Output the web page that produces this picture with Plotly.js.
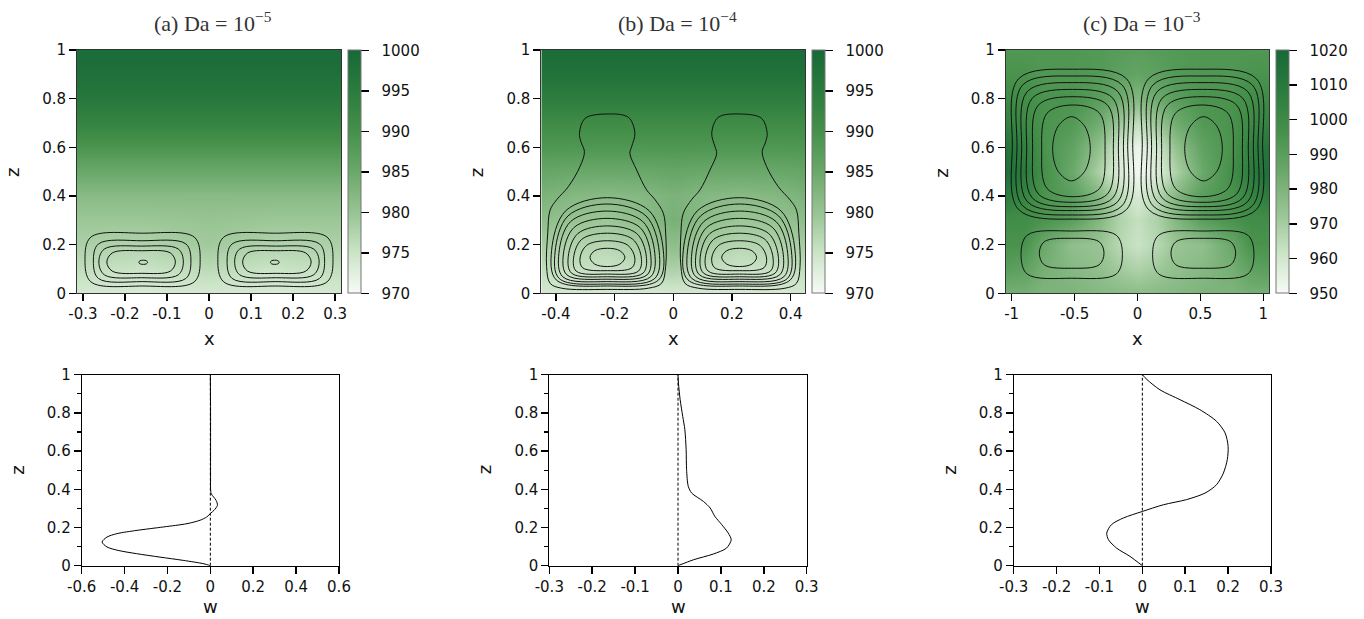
<!DOCTYPE html>
<html><head><meta charset="utf-8">
<script src="https://cdn.plot.ly/plotly-3.0.1.min.js"></script>
<style>html,body{margin:0;padding:0;background:#fff}#chart{width:1364px;height:619px}</style>
</head><body><div id="chart"></div>
<script>
// ---------- DATA ----------
const zGrid = [0,0.1,0.2,0.3,0.4,0.5,0.6,0.7,0.8,0.9,1];

// (a) Da = 1e-5 : colour field
const xGridA = [-0.314,-0.157,0,0.157,0.314];
const fieldA = [
 [974,973.5,974,973.5,974],
 [976,975,976.5,975,976],
 [978,977.5,979,977.5,978],
 [979.5,979.5,980,979.5,979.5],
 [981.5,981.5,981.5,981.5,981.5],
 [985,985,985,985,985],
 [989,989,989,989,989],
 [993,993,993,993,993],
 [996,996,996,996,996],
 [998,998,998,998,998],
 [999,999,999,999,999]
];
// (b) Da = 1e-4
const xGridB = [-0.45,-0.34,-0.225,-0.11,0,0.11,0.225,0.34,0.45];
const fieldB = [
 [974,974,974,974,974,974,974,974,974],
 [976,975.5,975,976,978,976,975,975.5,976],
 [978.5,977.5,977,978.5,981,978.5,977,977.5,978.5],
 [981,980,979.5,981,983.5,981,979.5,980,981],
 [983,982,981.5,982,983,982,981.5,982,983],
 [985.5,985,985,985,985.5,985,985,985,985.5],
 [988.5,988.5,988.5,988.5,988.5,988.5,988.5,988.5,988.5],
 [991,991,991,991,991,991,991,991,991],
 [994.5,994.5,994.5,994.5,994.5,994.5,994.5,994.5,994.5],
 [997.5,997.5,997.5,997.5,997.5,997.5,997.5,997.5,997.5],
 [999,999,999,999,999,999,999,999,999]
];
// (c) Da = 1e-3
const xGridC = [-1.047,-0.9,-0.75,-0.52,-0.3,-0.15,0,0.15,0.3,0.52,0.75,0.9,1.047];
const fieldC = [
 [982,982,980,980,978,977,976,977,978,980,980,982,982],
 [990,988,982,978,975,971,968,971,975,978,982,988,990],
 [995,995,985,975,973,966,962,966,973,975,985,995,995],
 [998,998,995,990,978,968,963,968,978,990,995,998,998],
 [1008,1003,995,990,978,966,958,966,978,990,995,1003,1008],
 [1016,1008,997,985,968,957,951,957,968,985,997,1008,1016],
 [1013,1005,995,988,974,960,953,960,974,988,995,1005,1013],
 [1005,1000,995,992,983,972,964,972,983,992,995,1000,1005],
 [1000,998,995,995,990,984,978,984,990,995,995,998,1000],
 [995,995,993,993,992,989,987,989,992,993,993,995,995],
 [993,993,993,993,992,991,990,991,992,993,993,993,993]
];

// streamline contours (left cell; right cell is its mirror image)
const ringsA_x = [
 [-0.158,-0.035,-0.021,-0.035,-0.158,-0.281,-0.295,-0.281,-0.158],
 [-0.159,-0.055,-0.043,-0.055,-0.159,-0.263,-0.275,-0.263,-0.159],
 [-0.161,-0.073,-0.061,-0.073,-0.161,-0.249,-0.262,-0.249,-0.161],
 [-0.161,-0.092,-0.080,-0.092,-0.161,-0.230,-0.243,-0.230,-0.161],
 [-0.156,-0.149,-0.146,-0.149,-0.156,-0.164,-0.167,-0.164,-0.156]
];
const ringsA_z = [
 [0.247,0.231,0.139,0.047,0.030,0.047,0.139,0.231,0.247],
 [0.216,0.203,0.132,0.061,0.048,0.061,0.132,0.203,0.216],
 [0.194,0.182,0.129,0.076,0.064,0.076,0.129,0.182,0.194],
 [0.175,0.166,0.128,0.091,0.082,0.091,0.128,0.166,0.175],
 [0.136,0.134,0.1275,0.121,0.119,0.121,0.1275,0.134,0.136]
];
const ringsB_x = [
 [-0.227,-0.153,-0.131,-0.142,-0.148,-0.125,-0.091,-0.063,-0.034,-0.026,-0.026,-0.040,-0.085,-0.227,-0.381,-0.420,-0.432,-0.428,-0.420,-0.398,-0.358,-0.318,-0.303,-0.315,-0.320,-0.301,-0.227],
 [-0.225,-0.082,-0.034,-0.050,-0.225,-0.399,-0.415,-0.367,-0.225],
 [-0.226,-0.093,-0.048,-0.063,-0.226,-0.389,-0.403,-0.359,-0.226],
 [-0.227,-0.104,-0.063,-0.077,-0.227,-0.377,-0.390,-0.350,-0.227],
 [-0.226,-0.114,-0.077,-0.089,-0.226,-0.363,-0.375,-0.338,-0.226],
 [-0.225,-0.125,-0.092,-0.103,-0.225,-0.347,-0.358,-0.325,-0.225],
 [-0.225,-0.138,-0.109,-0.119,-0.225,-0.331,-0.340,-0.312,-0.225],
 [-0.225,-0.155,-0.131,-0.141,-0.225,-0.309,-0.318,-0.295,-0.225],
 [-0.225,-0.182,-0.165,-0.182,-0.225,-0.268,-0.284,-0.268,-0.225]
];
const ringsB_z = [
 [0.737,0.723,0.658,0.603,0.575,0.507,0.425,0.386,0.329,0.247,0.110,0.041,0.021,0.016,0.021,0.041,0.110,0.247,0.342,0.384,0.438,0.521,0.582,0.623,0.658,0.719,0.737],
 [0.393,0.339,0.175,0.055,0.030,0.055,0.175,0.339,0.393],
 [0.367,0.318,0.170,0.061,0.038,0.061,0.170,0.318,0.367],
 [0.338,0.295,0.164,0.068,0.048,0.068,0.164,0.295,0.338],
 [0.308,0.271,0.158,0.076,0.058,0.076,0.158,0.271,0.308],
 [0.277,0.246,0.152,0.083,0.068,0.083,0.152,0.246,0.277],
 [0.247,0.222,0.146,0.091,0.079,0.091,0.146,0.222,0.247],
 [0.216,0.1975,0.145,0.105,0.093,0.105,0.145,0.1975,0.216],
 [0.185,0.175,0.1475,0.120,0.110,0.120,0.1475,0.175,0.185]
];
const ringsC_x = [
 [-0.516,-0.086,-0.038,-0.086,-0.516,-0.946,-0.994,-0.946,-0.516],
 [-0.518,-0.122,-0.078,-0.122,-0.518,-0.913,-0.957,-0.913,-0.518],
 [-0.516,-0.156,-0.112,-0.156,-0.516,-0.876,-0.920,-0.876,-0.516],
 [-0.516,-0.196,-0.152,-0.196,-0.516,-0.836,-0.880,-0.836,-0.516],
 [-0.513,-0.237,-0.192,-0.237,-0.513,-0.789,-0.833,-0.789,-0.513],
 [-0.510,-0.301,-0.258,-0.301,-0.510,-0.719,-0.761,-0.719,-0.510],
 [-0.525,-0.420,-0.375,-0.420,-0.525,-0.630,-0.674,-0.630,-0.525],
 [-0.523,-0.169,-0.120,-0.169,-0.523,-0.876,-0.925,-0.876,-0.523],
 [-0.523,-0.305,-0.266,-0.305,-0.523,-0.741,-0.780,-0.741,-0.523]
];
const ringsC_z = [
 [0.921,0.881,0.613,0.345,0.305,0.345,0.613,0.881,0.921],
 [0.893,0.856,0.608,0.360,0.322,0.360,0.608,0.856,0.893],
 [0.866,0.829,0.603,0.377,0.340,0.377,0.603,0.829,0.866],
 [0.838,0.802,0.597,0.392,0.356,0.392,0.597,0.802,0.838],
 [0.808,0.773,0.591,0.409,0.374,0.409,0.591,0.773,0.808],
 [0.774,0.740,0.586,0.431,0.397,0.431,0.586,0.740,0.774],
 [0.726,0.687,0.594,0.501,0.462,0.501,0.594,0.687,0.726],
 [0.256,0.239,0.159,0.079,0.062,0.079,0.159,0.239,0.256],
 [0.226,0.212,0.165,0.117,0.103,0.117,0.165,0.212,0.226]
];

// vertical velocity profiles w(z)
const wA_z = [0,0.01,0.028,0.045,0.063,0.08,0.098,0.124,0.15,0.168,0.185,0.203,0.22,0.238,0.255,0.276,0.29,0.316,0.342,0.36,0.377,0.403,0.45,0.6,0.8,1];
const wA   = [0,-0.03,-0.127,-0.235,-0.344,-0.43,-0.482,-0.505,-0.482,-0.435,-0.342,-0.218,-0.109,-0.048,-0.017,0.003,0.017,0.033,0.027,0.015,0.004,0.001,0.001,0.001,0.001,0];
const wB_z = [0,0.031,0.061,0.092,0.136,0.171,0.215,0.258,0.302,0.337,0.38,0.415,0.503,0.607,0.712,0.782,0.869,0.956,1];
const wB   = [0,0.036,0.082,0.113,0.124,0.117,0.102,0.086,0.075,0.059,0.032,0.024,0.020,0.019,0.016,0.011,0.005,0.001,0];
const wC_z = [0,0.049,0.092,0.136,0.171,0.215,0.25,0.284,0.319,0.346,0.38,0.424,0.485,0.555,0.625,0.695,0.756,0.817,0.869,0.921,0.974,1];
const wC   = [0,-0.029,-0.06,-0.079,-0.083,-0.072,-0.044,0,0.049,0.103,0.146,0.173,0.189,0.198,0.2,0.193,0.173,0.134,0.088,0.041,0.011,0];

const titles = ['(a) Da&nbsp;=&nbsp;10<sup>\u22125</sup>','(b) Da&nbsp;=&nbsp;10<sup>\u22124</sup>','(c) Da&nbsp;=&nbsp;10<sup>\u22123</sup>'];
const cbRanges = [[970,1000],[970,1000],[950,1020]];
const cbTicks = [[970,975,980,985,990,995,1000],[970,975,980,985,990,995,1000],[950,960,970,980,990,1000,1010,1020]];
const topXTicks = [[-0.3,-0.2,-0.1,0,0.1,0.2,0.3],[-0.4,-0.2,0,0.2,0.4],[-1,-0.5,0,0.5,1]];
const topXText  = [['-0.3','-0.2','-0.1','0','0.1','0.2','0.3'],['-0.4','-0.2','0','0.2','0.4'],['-1','-0.5','0','0.5','1']];
const topXRange = [[-0.314,0.314],[-0.45,0.45],[-1.047,1.047]];
const botXTicks = [[-0.6,-0.4,-0.2,0,0.2,0.4,0.6],[-0.3,-0.2,-0.1,0,0.1,0.2,0.3],[-0.3,-0.2,-0.1,0,0.1,0.2,0.3]];
const botXText  = [['-0.6','-0.4','-0.2','0','0.2','0.4','0.6'],['-0.3','-0.2','-0.1','0','0.1','0.2','0.3'],['-0.3','-0.2','-0.1','0','0.1','0.2','0.3']];
const botXRange = [[-0.6,0.6],[-0.3,0.3],[-0.3,0.3]];
const zTicks = [0,0.2,0.4,0.6,0.8,1];
const zText = ['0','0.2','0.4','0.6','0.8','1'];

// ---------- LAYOUT GEOMETRY (pixels) ----------
const W = 1364, H = 619;
const topPx = [[77,341],[541.3,805.3],[1005.7,1269.3]];
const topPy = [50,293.3];
const cbPx = [347.7,811.7,1276];
const botPx = [[81.7,339],[549.3,806.7],[1013.7,1271]];
const botPy = [374.7,565.7];
const px2x = p => p / W, py2y = p => 1 - p / H;

const greens = [[0,'rgb(247,251,246)'],[0.17,'rgb(202,227,198)'],[0.33,'rgb(152,196,147)'],[0.5,'rgb(106,168,106)'],[0.67,'rgb(68,143,73)'],[0.83,'rgb(44,124,62)'],[1,'rgb(22,104,55)']];
const FONT = 'DejaVu Sans, Arial, sans-serif';
const NB = '\u00a0\u00a0';

function closedPaths(xs, zs, mirror) {
  const X = [], Z = [];
  xs.forEach((r, i) => {
    r.forEach((v, j) => { X.push(mirror ? -v : v); Z.push(zs[i][j]); });
    X.push(null); Z.push(null);
  });
  return {X, Z};
}

const fields = [[xGridA, fieldA],[xGridB, fieldB],[xGridC, fieldC]];
const rings = [[ringsA_x, ringsA_z],[ringsB_x, ringsB_z],[ringsC_x, ringsC_z]];
const profiles = [[wA, wA_z],[wB, wB_z],[wC, wC_z]];

const data = [];
const layout = {
  width: W, height: H, autosize: false,
  margin: {l:0, r:0, t:0, b:0},
  paper_bgcolor: '#fff', plot_bgcolor: '#fff',
  showlegend: false,
  font: {family: FONT, size: 15, color: '#111'},
  annotations: [], shapes: []
};

for (let k = 0; k < 3; k++) {
  const ti = 2*k + 1, bi = 2*k + 2;
  const sfx = n => (n === 1 ? '' : String(n));
  data.push({
    type: 'heatmap', x: fields[k][0], y: zGrid, z: fields[k][1],
    xaxis: 'x' + sfx(ti), yaxis: 'y' + sfx(ti),
    zmin: cbRanges[k][0], zmax: cbRanges[k][1], zsmooth: 'best',
    colorscale: greens, hoverinfo: 'skip',
    colorbar: {
      x: px2x(cbPx[k]), xanchor: 'left', xref: 'paper',
      y: py2y(topPy[1]), yanchor: 'bottom', yref: 'paper',
      len: (topPy[1]-topPy[0])/H, lenmode: 'fraction',
      thickness: 13, thicknessmode: 'pixels', xpad: 0, ypad: 0,
      outlinecolor: '#777', outlinewidth: 1,
      ticks: 'outside', ticklen: 8, tickwidth: 1.5, tickcolor: '#000',
      tickvals: cbTicks[k], ticktext: cbTicks[k].map(v => NB + v),
      tickfont: {family: FONT, size: 15, color: '#111'}
    }
  });
  [false, true].forEach(m => {
    const p = closedPaths(rings[k][0], rings[k][1], m);
    data.push({type: 'scatter', mode: 'lines', x: p.X, y: p.Z,
      xaxis: 'x' + sfx(ti), yaxis: 'y' + sfx(ti), connectgaps: false,
      line: {color: '#111', width: 1, shape: 'spline', smoothing: 1}, hoverinfo: 'skip'});
  });
  data.push({type: 'scatter', mode: 'lines', x: profiles[k][0], y: profiles[k][1],
    xaxis: 'x' + sfx(bi), yaxis: 'y' + sfx(bi),
    line: {color: '#000', width: 1, shape: 'spline', smoothing: 0.8}, hoverinfo: 'skip'});

  const axBase = {
    showgrid: false, zeroline: false, ticks: 'outside', ticklen: 7, tickwidth: 1.5,
    tickcolor: '#000', showline: true, mirror: true, linewidth: 1,
    tickfont: {family: FONT, size: 15, color: '#111'}, fixedrange: true
  };
  layout['xaxis' + sfx(ti)] = Object.assign({}, axBase, {
    domain: [px2x(topPx[k][0]), px2x(topPx[k][1])], anchor: 'y' + sfx(ti),
    range: topXRange[k], tickvals: topXTicks[k], ticktext: topXText[k], linecolor: '#333'
  });
  layout['yaxis' + sfx(ti)] = Object.assign({}, axBase, {
    domain: [py2y(topPy[1]), py2y(topPy[0])], anchor: 'x' + sfx(ti),
    range: [0, 1], tickvals: zTicks, ticktext: zText, linecolor: '#333'
  });
  layout['xaxis' + sfx(bi)] = Object.assign({}, axBase, {
    domain: [px2x(botPx[k][0]), px2x(botPx[k][1])], anchor: 'y' + sfx(bi),
    range: botXRange[k], tickvals: botXTicks[k], ticktext: botXText[k], linecolor: '#000'
  });
  layout['yaxis' + sfx(bi)] = Object.assign({}, axBase, {
    domain: [py2y(botPy[1]), py2y(botPy[0])], anchor: 'x' + sfx(bi),
    range: [0, 1], tickvals: zTicks, ticktext: zText, linecolor: '#000',
    minor: {tickvals: [0.1,0.3,0.5,0.7,0.9], ticks: 'outside', ticklen: 4, tickwidth: 1.2, tickcolor: '#000'}
  });
  layout.shapes.push({type: 'line', xref: 'x' + sfx(bi), yref: 'y' + sfx(bi) + ' domain',
    x0: 0, x1: 0, y0: 0, y1: 1, line: {color: '#000', width: 1, dash: '3px,2px'}});

  const cx = (topPx[k][0] + topPx[k][1]) / 2;
  layout.annotations.push({text: titles[k], xref: 'paper', yref: 'paper', x: px2x(cx + 4), y: py2y(22),
    xanchor: 'center', yanchor: 'middle', showarrow: false,
    font: {family: 'Liberation Serif, Times New Roman, serif', size: 22, color: '#333'}});
  layout.annotations.push({text: 'x', xref: 'paper', yref: 'paper', x: px2x(cx), y: py2y(338),
    xanchor: 'center', yanchor: 'middle', showarrow: false, font: {family: FONT, size: 18, color: '#111'}});
  layout.annotations.push({text: 'z', xref: 'paper', yref: 'paper', x: px2x(topPx[k][0] - 64), y: py2y(173),
    xanchor: 'center', yanchor: 'middle', showarrow: false, textangle: -90, font: {family: FONT, size: 18, color: '#111'}});
  const bx = (botPx[k][0] + botPx[k][1]) / 2;
  layout.annotations.push({text: 'w', xref: 'paper', yref: 'paper', x: px2x(bx), y: 0,
    xanchor: 'center', yanchor: 'bottom', showarrow: false, font: {family: FONT, size: 18, color: '#111'}});
  layout.annotations.push({text: 'z', xref: 'paper', yref: 'paper', x: px2x(botPx[k][0] - 65), y: py2y(470),
    xanchor: 'center', yanchor: 'middle', showarrow: false, textangle: -90, font: {family: FONT, size: 18, color: '#111'}});
}

Plotly.newPlot('chart', data, layout, {displayModeBar: false, staticPlot: true});
</script></body></html>
